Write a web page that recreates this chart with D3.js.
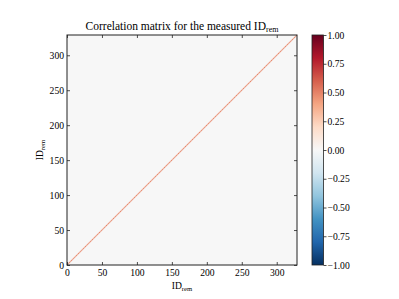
<!DOCTYPE html>
<html>
<head>
<meta charset="utf-8">
<script src="https://cdn.jsdelivr.net/npm/d3@7"></script>
<style>
  body { margin: 0; background: #fff; }
  text { font-family: "Liberation Serif", "DejaVu Serif", serif; fill: #000; }
</style>
</head>
<body>
<script>
// chart size
var width = 399,
    height = 299;

// data: correlation matrix of the measured IDs (identity, off-diagonal ~0)
var nIds = 329;
var ids = d3.range(nIds);
var diagValues = ids.map(function(){ return 1; });
var offDiagValue = 0;
var axisTicks = [0, 50, 100, 150, 200, 250, 300];
var cbarTicks = [-1, -0.75, -0.5, -0.25, 0, 0.25, 0.5, 0.75, 1];

// RdBu_r stops (matplotlib)
var rdbu = ["#053061", "#2166ac", "#4393c3", "#92c5de", "#d1e5f0", "#f7f7f7",
            "#fddbc7", "#f4a582", "#d6604d", "#b2182b", "#67001f"];

// plot box
var x0 = 67, x1 = 297, y0 = 35, y1 = 265;
var cbX = 312, cbW = 11.5;

var x = d3.scaleLinear().domain([0, nIds]).range([x0, x1]);
var y = d3.scaleLinear().domain([0, nIds]).range([y1, y0]);
var color = d3.scaleLinear()
    .domain(d3.range(rdbu.length).map(function(i){ return -1 + 2 * i / (rdbu.length - 1); }))
    .range(rdbu)
    .interpolate(d3.interpolateRgb);

// cells are smaller than a pixel, so the raster averages them with
// their neighbours; approximate that smoothing for the displayed colour
var cellPx = x(1) - x(0);
var smooth = cellPx / 1.45;

var svg = d3.select("body").append("svg")
    .attr("width", width)
    .attr("height", height);

// off-diagonal cells (all the same value)
svg.append("rect")
    .attr("x", x(0))
    .attr("y", y(nIds))
    .attr("width", x(nIds) - x(0))
    .attr("height", y(0) - y(nIds))
    .attr("fill", color(offDiagValue));

// diagonal cells
svg.append("g").selectAll("rect")
    .data(ids)
    .enter().append("rect")
    .attr("x", function(d){ return x(d) - 0.15; })
    .attr("y", function(d){ return y(d + 1) - 0.15; })
    .attr("width", cellPx + 0.3)
    .attr("height", cellPx + 0.3)
    .attr("fill", function(d, i){ return color(diagValues[i] * smooth + offDiagValue * (1 - smooth)); });

// axes, ticks inward on all four sides
var tickLen = 3;
svg.append("g").attr("transform", "translate(0," + y1 + ")")
    .call(d3.axisBottom(x).tickValues(axisTicks).tickSize(-tickLen).tickPadding(4).tickFormat(d3.format("d")));
svg.append("g").attr("transform", "translate(0," + y0 + ")")
    .call(d3.axisTop(x).tickValues(axisTicks).tickSize(-tickLen).tickFormat(""));
svg.append("g").attr("transform", "translate(" + x0 + ",0)")
    .call(d3.axisLeft(y).tickValues(axisTicks).tickSize(-tickLen).tickPadding(3).tickFormat(d3.format("d")));
svg.append("g").attr("transform", "translate(" + x1 + ",0)")
    .call(d3.axisRight(y).tickValues(axisTicks).tickSize(-tickLen).tickFormat(""));

svg.selectAll(".domain").remove();
svg.selectAll(".tick line").attr("stroke", "#222").attr("stroke-width", 0.8);
svg.selectAll(".tick text").attr("font-size", 9.6).attr("font-family", "Liberation Serif");

svg.append("rect")
    .attr("x", x0).attr("y", y0)
    .attr("width", x1 - x0).attr("height", y1 - y0)
    .attr("fill", "none").attr("stroke", "#222").attr("stroke-width", 1);

// title
var title = svg.append("text")
    .attr("x", (x0 + x1) / 2)
    .attr("y", 30)
    .attr("text-anchor", "middle")
    .attr("font-size", 11.5);
title.append("tspan").text("Correlation matrix for the measured ID");
title.append("tspan").attr("font-size", 8).attr("dy", 2).text("rem");

// x label
var xl = svg.append("text")
    .attr("x", (x0 + x1) / 2)
    .attr("y", 289)
    .attr("text-anchor", "middle")
    .attr("font-size", 9.6);
xl.append("tspan").text("ID");
xl.append("tspan").attr("font-size", 6.7).attr("dy", 1.5).text("rem");

// y label
var yl = svg.append("text")
    .attr("transform", "translate(43," + ((y0 + y1) / 2) + ") rotate(-90)")
    .attr("text-anchor", "middle")
    .attr("font-size", 9.6);
yl.append("tspan").text("ID");
yl.append("tspan").attr("font-size", 6.7).attr("dy", 1.5).text("rem");

// colorbar
var cb = d3.scaleLinear().domain([-1, 1]).range([y1, y0]);
var defs = svg.append("defs");
var grad = defs.append("linearGradient")
    .attr("id", "cbgrad")
    .attr("x1", 0).attr("y1", 1).attr("x2", 0).attr("y2", 0);
grad.selectAll("stop")
    .data(rdbu)
    .enter().append("stop")
    .attr("offset", function(d, i){ return i / (rdbu.length - 1); })
    .attr("stop-color", function(d){ return d; });

svg.append("rect")
    .attr("x", cbX).attr("y", y0)
    .attr("width", cbW).attr("height", y1 - y0)
    .attr("fill", "url(#cbgrad)")
    .attr("stroke", "#222").attr("stroke-width", 0.8);

var cbAxis = svg.append("g").attr("transform", "translate(" + (cbX + cbW) + ",0)")
    .call(d3.axisRight(cb).tickValues(cbarTicks).tickSize(3).tickPadding(1)
      .tickFormat(function(d){ return d3.format(".2f")(d).replace("-", "\u2212"); }));
cbAxis.select(".domain").remove();
cbAxis.selectAll(".tick line").attr("stroke", "#222").attr("stroke-width", 0.8);
cbAxis.selectAll(".tick text").attr("font-size", 9.6).attr("font-family", "Liberation Serif");
</script>
</body>
</html>
